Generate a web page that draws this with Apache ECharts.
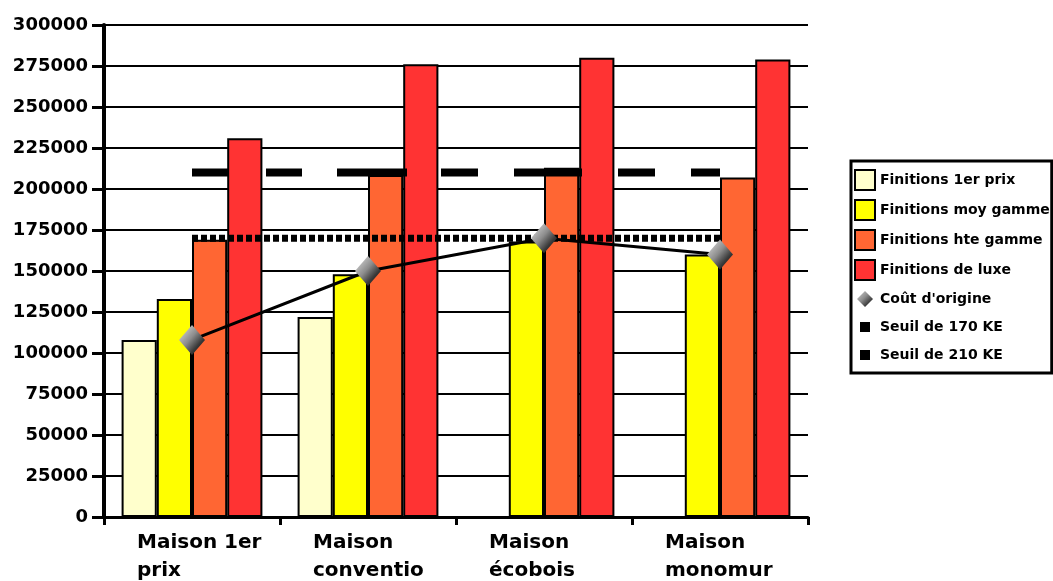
<!DOCTYPE html>
<html>
<head>
<meta charset="utf-8">
<script src="https://cdn.jsdelivr.net/npm/echarts@6/dist/echarts.min.js"></script>
<style>
  html, body { margin: 0; padding: 0; background: #ffffff; }
  #chart { width: 1053px; height: 581px; }
</style>
</head>
<body>
<div id="chart"></div>
<script>
// Categories (house types) and the cost of each finishing level
const categories = ['Maison 1er\nprix', 'Maison\nconventio', 'Maison\nécobois', 'Maison\nmonomur'];
const finitions1erPrix = [108000, 122000, null, null];
const finitionsMoyGamme = [133000, 148000, 168000, 160000];
const finitionsHteGamme = [169000, 208500, 213000, 207000];
const finitionsLuxe = [231000, 276000, 280000, 279000];
const coutOrigine = [108000, 150000, 170000, 160000];
const seuil170 = [170000, 170000, 170000, 170000];
const seuil210 = [210000, 210000, 210000, 210000];

// Value axis range
const yMin = 0;
const yMax = 300000;
const yStep = 25000;

const seriesNames = [
  'Finitions 1er prix',
  'Finitions moy gamme',
  'Finitions hte gamme',
  'Finitions de luxe',
  "Coût d'origine",
  'Seuil de 170 KE',
  'Seuil de 210 KE'
];

const FONT = 'DejaVu Sans';
const chart = echarts.init(document.getElementById('chart'), null, { renderer: 'canvas' });

function barSeries(name, data, color) {
  return {
    name: name,
    type: 'bar',
    data: data,
    barGap: '0%',
    barCategoryGap: '20%',
    itemStyle: { color: color, borderColor: '#000000', borderWidth: 2 },
    z: 2
  };
}

const diamondFill = {
  type: 'linear', x: 0, y: 0, x2: 1, y2: 1,
  colorStops: [
    { offset: 0, color: '#e6e6e6' },
    { offset: 0.45, color: '#8c8c8c' },
    { offset: 0.7, color: '#3a3a3a' },
    { offset: 1, color: '#000000' }
  ]
};

const option = {
  backgroundColor: '#ffffff',
  animation: false,
  grid: { left: 104, right: 245, top: 25, bottom: 64, containLabel: false },
  legend: {
    orient: 'vertical',
    left: 851,
    top: 161,
    padding: [8, 2, 8, 3],
    itemWidth: 20,
    itemHeight: 20,
    itemGap: 8,
    borderColor: '#000000',
    borderWidth: 3,
    backgroundColor: '#ffffff',
    textStyle: { fontFamily: FONT, fontWeight: 'bold', fontSize: 14, color: '#000000' },
    data: [
      { name: seriesNames[0], icon: 'rect' },
      { name: seriesNames[1], icon: 'rect' },
      { name: seriesNames[2], icon: 'rect' },
      { name: seriesNames[3], icon: 'rect' },
      { name: seriesNames[4], icon: 'path://M0,0M20,20M10,2L18,10L10,18L2,10Z', itemStyle: { color: diamondFill, borderWidth: 0 } },
      { name: seriesNames[5], icon: 'path://M0,0M20,20M5,5h10v10h-10z', itemStyle: { color: '#000000', borderWidth: 0 } },
      { name: seriesNames[6], icon: 'path://M0,0M20,20M5,5h10v10h-10z', itemStyle: { color: '#000000', borderWidth: 0 } }
    ]
  },
  xAxis: {
    type: 'category',
    data: categories,
    axisLine: { show: true, lineStyle: { color: '#000000', width: 3 } },
    axisTick: { show: true, length: 8, lineStyle: { color: '#000000', width: 3 } },
    axisLabel: {
      margin: 12,
      align: 'center',
      formatter: function (value) {
        return value.split('\n').map(function (line) { return '{a|' + line + '}'; }).join('\n');
      },
      rich: {
        a: {
          width: 110,
          align: 'left',
          fontFamily: FONT,
          fontWeight: 'bold',
          fontSize: 20,
          lineHeight: 28,
          color: '#000000'
        }
      }
    },
    splitLine: { show: false }
  },
  yAxis: {
    type: 'value',
    min: yMin,
    max: yMax,
    interval: yStep,
    axisLine: { show: true, lineStyle: { color: '#000000', width: 4 } },
    axisTick: { show: true, length: 12, lineStyle: { color: '#000000', width: 3 } },
    axisLabel: {
      margin: 16,
      fontFamily: FONT,
      fontWeight: 'bold',
      fontSize: 18,
      color: '#000000',
      formatter: function (v) { return String(v); }
    },
    splitLine: { show: true, lineStyle: { color: '#000000', width: 2 } }
  },
  series: [
    barSeries(seriesNames[0], finitions1erPrix, '#ffffcc'),
    barSeries(seriesNames[1], finitionsMoyGamme, '#ffff00'),
    barSeries(seriesNames[2], finitionsHteGamme, '#ff6633'),
    barSeries(seriesNames[3], finitionsLuxe, '#ff3333'),
    {
      name: seriesNames[4],
      type: 'line',
      data: coutOrigine,
      symbol: 'diamond',
      symbolSize: [26, 30],
      showSymbol: true,
      lineStyle: { color: '#000000', width: 3 },
      itemStyle: { color: diamondFill, borderWidth: 0 },
      z: 6
    },
    {
      name: seriesNames[5],
      type: 'line',
      data: seuil170,
      showSymbol: false,
      symbol: 'none',
      lineStyle: { color: '#000000', width: 7, type: [6, 3], cap: 'butt' },
      itemStyle: { color: '#000000' },
      z: 5
    },
    {
      name: seriesNames[6],
      type: 'line',
      data: seuil210,
      showSymbol: false,
      symbol: 'none',
      lineStyle: { color: '#000000', width: 8, type: [36, 38, 36, 35, 70, 34, 37, 36, 68, 36, 37, 36], cap: 'butt' },
      itemStyle: { color: '#000000' },
      z: 5
    }
  ]
};

chart.setOption(option);
</script>
</body>
</html>
